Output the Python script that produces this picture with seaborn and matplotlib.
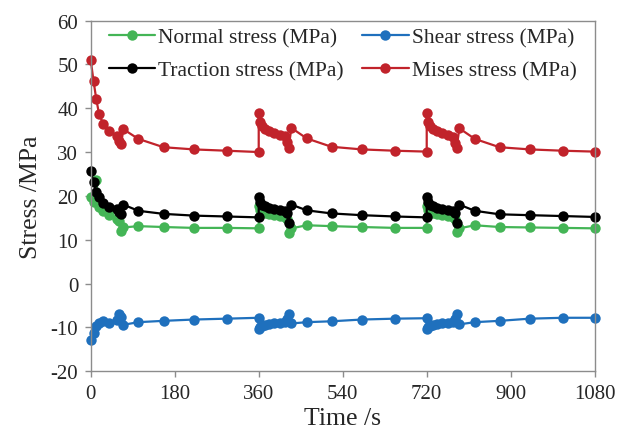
import pandas as pd
import matplotlib
matplotlib.use("Agg")
import matplotlib.pyplot as plt
import seaborn as sns

# time points (s), three loading cycles
time_s = [0, 6, 12, 18, 27, 40, 56, 61, 65, 70, 102, 156, 221, 292, 360,
          360, 363, 367, 373, 381, 392, 405, 416, 420, 424, 430, 463, 516, 581, 652, 720,
          720, 723, 727, 733, 741, 752, 765, 776, 780, 784, 790, 823, 876, 941, 1012, 1080]

normal = [19.8, 18.6, 23.6, 17.4, 16.5, 15.6, 14.8, 14.2, 11.9, 12.8, 13.1, 12.9, 12.7, 12.7, 12.6,
          17.6, 16.8, 16.4, 16.1, 15.9, 15.7, 15.5, 15.2, 14.8, 11.6, 12.6, 13.3, 13.1, 12.9, 12.7, 12.7,
          17.6, 16.8, 16.4, 16.1, 15.9, 15.7, 15.5, 15.2, 14.8, 11.7, 12.6, 13.3, 12.9, 12.8, 12.7, 12.6]

shear = [-12.9, -11.2, -9.6, -8.9, -8.6, -8.9, -8.3, -6.9, -7.6, -9.4, -8.8, -8.5, -8.2, -8.0, -7.8,
         -10.4, -9.9, -9.6, -9.4, -9.2, -9.0, -8.9, -8.7, -8.0, -6.9, -9.1, -8.8, -8.6, -8.2, -8.0, -7.9,
         -10.3, -9.9, -9.6, -9.4, -9.2, -9.0, -8.9, -8.7, -8.0, -6.9, -9.3, -8.8, -8.5, -8.0, -7.8, -7.8]

traction = [25.6, 23.1, 21.0, 19.7, 18.4, 17.5, 17.1, 16.3, 15.8, 18.0, 16.6, 15.9, 15.5, 15.3, 15.1,
            19.7, 18.6, 18.0, 17.6, 17.3, 17.0, 16.8, 16.5, 16.0, 13.9, 18.0, 16.7, 16.0, 15.6, 15.3, 15.1,
            19.8, 18.6, 18.0, 17.6, 17.3, 17.0, 16.8, 16.5, 16.0, 13.8, 18.0, 16.6, 15.8, 15.6, 15.4, 15.2]

mises = [51.0, 46.2, 42.0, 38.6, 36.4, 34.8, 33.6, 32.6, 31.8, 35.2, 33.0, 31.1, 30.6, 30.3, 30.0,
         39.0, 36.9, 36.0, 35.3, 34.8, 34.4, 34.0, 33.6, 32.2, 30.9, 35.5, 33.1, 31.2, 30.6, 30.3, 30.1,
         39.0, 36.9, 36.0, 35.3, 34.8, 34.3, 34.0, 33.5, 32.1, 31.0, 35.4, 33.0, 31.1, 30.6, 30.3, 30.1]

series = [
    ("Normal stress (MPa)", normal, "#44b556"),
    ("Shear stress (MPa)", shear, "#1f70bd"),
    ("Traction stress (MPa)", traction, "#000000"),
    ("Mises stress (MPa)", mises, "#c1232b"),
]

df = pd.DataFrame({"time": time_s})
for name, vals, _ in series:
    df[name] = vals

sns.set_style("white")
plt.rcParams["font.family"] = ["Liberation Serif", "DejaVu Serif"]
plt.rcParams["axes.unicode_minus"] = False

fig = plt.figure(figsize=(6.3, 4.39), dpi=100)
ax = fig.add_axes([0.144, 0.152, 0.800, 0.799])

for name, _, color in series:
    sns.lineplot(data=df, x="time", y=name, ax=ax, estimator=None, sort=False,
                 color=color, marker="o", markersize=7.5, markeredgewidth=0,
                 linewidth=1.6, label=name, clip_on=False)

ax.set_xlim(0, 1080)
ax.set_ylim(-20, 60)
ax.set_xticks(range(0, 1081, 180))
ax.set_yticks(range(-20, 61, 10))
ax.set_xlabel("Time /s", fontsize=18.5, labelpad=3)
ax.set_ylabel("Stress /MPa", fontsize=18.5, labelpad=6)

for sp in ax.spines.values():
    sp.set_color("#8c8c8c")
    sp.set_linewidth(1.0)
ax.tick_params(axis="both", which="major", labelsize=15, direction="out",
               length=4, width=1.0, color="#8c8c8c", left=True, bottom=True, pad=5)

# row-wise legend: Normal, Shear / Traction, Mises
handles, labels = ax.get_legend_handles_labels()
order = [0, 2, 1, 3]
ax.legend([handles[i] for i in order], [labels[i] for i in order],
          loc="upper left", ncol=2, frameon=False, fontsize=15.5,
          bbox_to_anchor=(0.036, 0.979), handlelength=2.15, columnspacing=0.85,
          handletextpad=0.15, labelspacing=0.6, borderaxespad=0.0, borderpad=0.0)

fig.savefig("out.png", dpi=100)
